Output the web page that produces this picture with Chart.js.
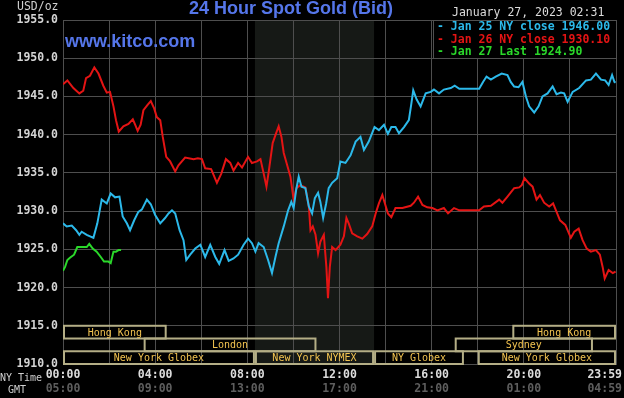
<!DOCTYPE html>
<html><head><meta charset="utf-8">
<script src="https://cdn.jsdelivr.net/npm/chart.js@4"></script>
<style>html,body{margin:0;padding:0;background:#000;overflow:hidden}canvas{display:block}</style>
</head><body>
<canvas id="c" width="624" height="398"></canvas>
<script>
// ---- data (hours since 00:00 NY time, price in USD/oz) ----
const jan25Hours = [0,0.16,0.38,0.57,0.71,0.81,1.03,1.32,1.49,1.68,1.9,2.07,2.26,2.45,2.59,2.77,2.91,3.09,3.27,3.42,3.64,3.81,4.0,4.22,4.43,4.58,4.73,4.87,5.06,5.23,5.35,5.52,5.74,5.96,6.17,6.39,6.61,6.78,7.01,7.19,7.4,7.6,7.84,8.03,8.2,8.35,8.49,8.71,8.9,9.07,9.22,9.36,9.58,9.77,9.91,10.01,10.12,10.23,10.35,10.52,10.67,10.81,10.93,11.07,11.17,11.29,11.42,11.53,11.68,11.9,12.04,12.26,12.48,12.7,12.91,13.06,13.27,13.52,13.71,13.93,14.1,14.25,14.43,14.58,14.8,15.01,15.12,15.2,15.35,15.52,15.74,15.96,16.1,16.32,16.53,16.83,17.0,17.2,18.06,18.23,18.38,18.57,18.78,19.04,19.29,19.43,19.58,19.77,19.94,20.09,20.23,20.45,20.64,20.81,21.03,21.25,21.42,21.61,21.75,21.9,22.12,22.4,22.7,22.91,23.13,23.35,23.53,23.68,23.83,23.93,23.98];
const jan25Values = [1928.4,1928.0,1928.1,1927.5,1926.9,1927.3,1926.9,1926.5,1928.4,1931.5,1931.0,1932.3,1931.8,1931.9,1929.3,1928.4,1927.5,1928.8,1929.9,1930.2,1931.5,1930.9,1929.5,1928.4,1929.1,1929.7,1930.1,1929.7,1927.5,1926.2,1923.6,1924.3,1925.1,1925.6,1924.0,1925.6,1924.0,1923.1,1924.9,1923.5,1923.8,1924.3,1925.6,1926.4,1925.8,1924.7,1925.8,1925.3,1923.6,1921.9,1924.0,1925.8,1928.0,1930.1,1931.2,1930.4,1932.8,1934.5,1933.2,1933.0,1930.6,1929.7,1931.7,1932.4,1931.2,1929.1,1931.0,1933.0,1933.7,1934.3,1936.5,1936.3,1937.3,1939.1,1939.7,1938.0,1939.1,1941.0,1940.6,1941.3,1940.1,1941.0,1941.0,1940.2,1941.0,1941.9,1944.1,1945.8,1944.6,1943.7,1945.4,1945.6,1945.9,1945.4,1945.9,1946.1,1946.4,1946.0,1946.0,1946.9,1947.6,1947.2,1947.6,1948.0,1947.8,1946.9,1946.3,1946.2,1946.9,1945.0,1943.7,1942.9,1943.7,1945.0,1945.4,1946.3,1945.3,1945.5,1945.4,1944.3,1945.6,1946.1,1947.1,1947.2,1948.0,1947.2,1947.1,1946.5,1947.8,1946.9,1946.8];

const jan26Hours = [0,0.19,0.45,0.71,0.88,1.0,1.17,1.36,1.54,1.75,1.9,2.04,2.19,2.3,2.42,2.62,2.84,3.03,3.13,3.24,3.37,3.49,3.67,3.81,3.96,4.07,4.22,4.33,4.48,4.65,4.87,5.01,5.3,5.67,5.85,6.03,6.17,6.43,6.68,6.87,7.07,7.26,7.4,7.6,7.77,8.03,8.2,8.42,8.57,8.71,8.83,8.93,9.1,9.25,9.36,9.48,9.58,9.73,9.87,10.01,10.13,10.3,10.52,10.67,10.74,10.84,10.96,11.07,11.17,11.32,11.43,11.5,11.58,11.68,11.83,12.04,12.19,12.3,12.4,12.55,12.77,12.99,13.2,13.42,13.57,13.71,13.86,13.97,14.1,14.25,14.43,14.73,15.09,15.23,15.41,15.6,15.81,16.03,16.25,16.53,16.71,16.97,17.2,18.06,18.27,18.57,18.93,19.07,19.29,19.58,19.8,19.91,20.03,20.23,20.38,20.55,20.7,20.88,21.1,21.27,21.42,21.57,21.8,22.04,22.19,22.38,22.55,22.73,22.91,23.13,23.3,23.42,23.51,23.68,23.86,23.98];
const jan26Values = [1946.6,1947.1,1946.1,1945.4,1945.75,1947.4,1947.7,1948.8,1948.0,1946.4,1945.5,1945.6,1943.7,1941.9,1940.4,1941.1,1941.4,1942.0,1941.3,1940.5,1941.3,1943.2,1943.9,1944.4,1943.4,1942.3,1941.9,1939.7,1937.1,1936.5,1935.2,1936.0,1937.0,1936.8,1936.9,1936.8,1935.6,1935.5,1933.7,1934.9,1936.8,1936.3,1935.3,1936.3,1935.7,1937.1,1936.3,1936.5,1936.8,1934.9,1933.2,1935.2,1938.9,1940.2,1941.1,1939.7,1937.6,1936.0,1934.5,1931.5,1933.0,1933.4,1933.1,1930.6,1927.5,1928.0,1926.9,1924.5,1926.0,1926.9,1922.7,1918.6,1922.7,1925.3,1924.9,1925.6,1926.7,1929.1,1928.4,1927.1,1926.7,1926.4,1927.0,1928.0,1929.7,1931.0,1932.1,1931.0,1929.7,1929.2,1930.4,1930.4,1930.7,1931.1,1931.9,1930.8,1930.5,1930.4,1930.1,1930.4,1929.7,1930.4,1930.1,1930.1,1930.6,1930.7,1931.5,1931.1,1931.9,1933.0,1933.1,1933.4,1934.3,1933.6,1933.2,1931.5,1932.1,1931.1,1930.6,1931.0,1929.9,1928.8,1928.2,1926.5,1927.3,1927.7,1926.2,1925.1,1924.7,1924.9,1924.3,1922.7,1921.2,1922.3,1921.9,1922.1];

const jan27Hours = [0,0.09,0.19,0.3,0.48,0.62,0.81,1.03,1.14,1.29,1.46,1.64,1.78,1.97,2.07,2.19,2.3,2.41,2.52];
const jan27Values = [1922.2,1922.7,1923.6,1923.9,1924.3,1925.3,1925.3,1925.3,1925.7,1925.1,1924.7,1924.0,1923.4,1923.4,1923.2,1924.7,1924.7,1924.9,1924.9];

const seriesLabels = ['Jan 25 NY close 1946.00','Jan 26 NY close 1930.10','Jan 27 Last 1924.90'];

const xLabelHours = [0,4,8,12,16,20,24];
const nyTimeLabels = ['00:00','04:00','08:00','12:00','16:00','20:00','23:59'];
const gmtLabels = ['05:00','09:00','13:00','17:00','21:00','01:00','04:59'];

const sessionNames = ['Hong Kong','Hong Kong','London','Sydney','New York Globex','New York NYMEX','NY Globex','New York Globex'];
const sessionStart = [0,19.5,3.5,17,0,8.33,13.5,18];
const sessionEnd   = [4.5,24,11,23,8.33,13.5,17.4,24];
const sessionRow   = [0,0,1,1,2,2,2,2];

const nymexStart = 8.33, nymexEnd = 13.5;

// ---- styles ----
const COLORS = ['#2cb9ea','#e41414','#2ad82a'];
const MONO = '"DejaVu Sans Mono", monospace';

function pts(h, v){ return h.map((x,i)=>({x:x, y:v[i]})); }

const bgPlugin = {
  id:'bg',
  beforeDraw(chart){
    const {ctx, chartArea:a, scales:{x}} = chart;
    ctx.save();
    ctx.fillStyle = '#000';
    ctx.fillRect(0,0,chart.width,chart.height);
    ctx.fillStyle = '#161916';
    const x0 = x.getPixelForValue(nymexStart), x1 = x.getPixelForValue(nymexEnd);
    ctx.fillRect(x0, a.top, x1-x0, a.bottom-a.top);
    ctx.restore();
  }
};

const overlayPlugin = {
  id:'overlay',
  afterDraw(chart){
    const {ctx, chartArea:a, scales:{x,y}} = chart;
    ctx.save();
    // session bars
    const rowH = (y.getPixelForValue(1910) - y.getPixelForValue(1915))/3;
    const top0 = y.getPixelForValue(1915);
    ctx.lineWidth = 2;
    ctx.font = '10px ' + MONO;
    ctx.textAlign = 'center';
    ctx.textBaseline = 'middle';
    sessionNames.forEach((n,i)=>{
      const x0 = x.getPixelForValue(sessionStart[i]);
      const x1 = x.getPixelForValue(sessionEnd[i]);
      const t = top0 + rowH*sessionRow[i];
      ctx.strokeStyle = '#b4ae86';
      ctx.strokeRect(x0+1, t, x1-x0-2, rowH);
      ctx.fillStyle = '#f2c350';
      ctx.fillText(n, (x0+x1)/2, t + rowH/2 + 1);
    });
    // x labels
    ctx.font = 'bold 11.5px ' + MONO;
    xLabelHours.forEach((h,i)=>{
      let px = x.getPixelForValue(h);
      const w = ctx.measureText(nyTimeLabels[i]).width;
      px = Math.min(px, chart.width - 2 - w/2);
      ctx.fillStyle = '#dcdcdc';
      ctx.fillText(nyTimeLabels[i], px, a.bottom + 11);
      ctx.fillStyle = '#5e5e5e';
      ctx.fillText(gmtLabels[i], px, a.bottom + 25);
    });
    ctx.font = '10px ' + MONO;
    ctx.textAlign = 'left';
    ctx.fillStyle = '#cfcfcf';
    ctx.fillText('NY Time', 0, a.bottom + 14);
    ctx.fillText('GMT', 8, a.bottom + 26);
    ctx.font = '11.5px ' + MONO;
    ctx.fillText('USD/oz', 17, 7);
    // title
    ctx.textAlign = 'center';
    ctx.fillStyle = '#5576ea';
    ctx.font = 'bold 18px "Liberation Sans", Arial, sans-serif';
    ctx.fillText('24 Hour Spot Gold (Bid)', 291, 9);
    ctx.textAlign = 'left';
    ctx.fillText('www.kitco.com', 65, 42);
    // date
    ctx.font = '11.5px ' + MONO;
    ctx.fillStyle = '#dcdcdc';
    ctx.fillText('January 27, 2023 02:31', 452, 13);
    // legend box
    ctx.fillStyle = '#000';
    ctx.fillRect(433, a.top, a.right - 433, 38);
    ctx.strokeStyle = '#505050';
    ctx.lineWidth = 1;
    ctx.strokeRect(433.5, a.top + 0.5, a.right - 433, 38);
    ctx.font = 'bold 11.5px ' + MONO;
    seriesLabels.forEach((l,i)=>{
      ctx.fillStyle = COLORS[i];
      ctx.fillText('- ' + l, 437, a.top + 7 + i*12.7);
    });
    ctx.restore();
  }
};

new Chart(document.getElementById('c'), {
  type:'line',
  data:{ datasets:[
    {label:seriesLabels[0], data:pts(jan25Hours,jan25Values), borderColor:COLORS[0]},
    {label:seriesLabels[1], data:pts(jan26Hours,jan26Values), borderColor:COLORS[1]},
    {label:seriesLabels[2], data:pts(jan27Hours,jan27Values), borderColor:COLORS[2]}
  ]},
  options:{
    responsive:false, animation:false, devicePixelRatio:1,
    layout:{padding:{top:20,right:8,left:0,bottom:0}},
    elements:{point:{radius:0}, line:{borderWidth:2, tension:0}},
    plugins:{legend:{display:false}, tooltip:{enabled:false}},
    scales:{
      x:{type:'linear', min:0, max:24,
         ticks:{display:false, stepSize:2},
         grid:{color:'#4e4e4e', drawTicks:false},
         border:{color:'#4e4e4e'},
         afterFit(s){ s.height = 34; }},
      y:{type:'linear', min:1910, max:1955,
         ticks:{stepSize:5, color:'#d4d4d4', padding:5,
                font:{family:'"DejaVu Sans Mono"', size:11.5, weight:'bold'},
                callback:v=>v.toFixed(1)},
         grid:{color:'#4e4e4e', drawTicks:false},
         border:{color:'#4e4e4e'},
         afterFit(s){ s.width = 63; }}
    }
  },
  plugins:[bgPlugin, overlayPlugin]
});
</script>
</body></html>
